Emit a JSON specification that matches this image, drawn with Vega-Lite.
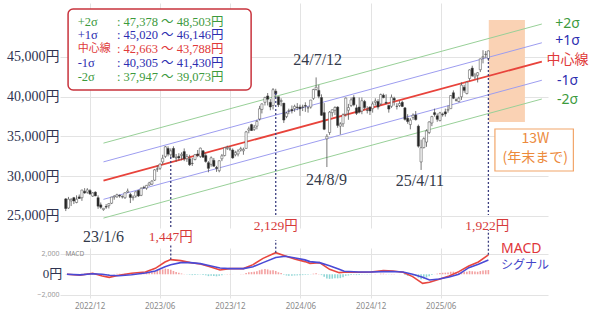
{
"$schema":"https://vega.github.io/schema/vega-lite/v6.json",
"padding":{"left":0,"top":3,"right":0,"bottom":0},
"background":"white",
"spacing":20,
"bounds":"flush",
"resolve":{"scale":{"x":"independent","y":"independent"}},
"config":{"view":{"stroke":null},"axis":{"gridWidth":1}},
"datasets":{
"w":[
{"d":"2022-09-30","o":27150,"h":27250,"l":25620,"c":25937,"hist":-20},
{"d":"2022-10-07","o":26000,"h":27400,"l":25900,"c":27116,"hist":-30},
{"d":"2022-10-14","o":26900,"h":27240,"l":26250,"c":27090,"hist":-20},
{"d":"2022-10-21","o":27300,"h":27400,"l":26500,"c":26890,"hist":-10},
{"d":"2022-10-28","o":26700,"h":27600,"l":26600,"c":27105,"hist":0},
{"d":"2022-11-04","o":27400,"h":27700,"l":27150,"c":27199,"hist":10},
{"d":"2022-11-11","o":27300,"h":28300,"l":26900,"c":28263,"hist":50},
{"d":"2022-11-18","o":28100,"h":28500,"l":27800,"c":27899,"hist":60},
{"d":"2022-11-25","o":28000,"h":28500,"l":27800,"c":28283,"hist":70},
{"d":"2022-12-02","o":28200,"h":28380,"l":27650,"c":27777,"hist":50},
{"d":"2022-12-09","o":27500,"h":28000,"l":27400,"c":27901,"hist":40},
{"d":"2022-12-16","o":28000,"h":28100,"l":27500,"c":27527,"hist":20},
{"d":"2022-12-23","o":27300,"h":27600,"l":25900,"c":26235,"hist":-60},
{"d":"2022-12-30","o":26400,"h":26700,"l":25900,"c":26094,"hist":-100},
{"d":"2023-01-06","o":25800,"h":26000,"l":25660,"c":25973,"hist":-120},
{"d":"2023-01-13","o":26200,"h":26500,"l":25900,"c":26119,"hist":-100},
{"d":"2023-01-20","o":26300,"h":26600,"l":25950,"c":26553,"hist":-70},
{"d":"2023-01-27","o":26600,"h":27400,"l":26500,"c":27382,"hist":0},
{"d":"2023-02-03","o":27400,"h":27600,"l":27050,"c":27509,"hist":30},
{"d":"2023-02-10","o":27400,"h":27800,"l":27300,"c":27670,"hist":50},
{"d":"2023-02-17","o":27600,"h":27700,"l":27300,"c":27513,"hist":50},
{"d":"2023-02-24","o":27400,"h":27600,"l":27200,"c":27453,"hist":40},
{"d":"2023-03-03","o":27300,"h":27950,"l":27150,"c":27927,"hist":50},
{"d":"2023-03-10","o":28000,"h":28450,"l":27900,"c":28143,"hist":60},
{"d":"2023-03-17","o":27700,"h":27900,"l":26630,"c":27333,"hist":0},
{"d":"2023-03-24","o":27300,"h":27600,"l":26950,"c":27385,"hist":-10},
{"d":"2023-03-31","o":27500,"h":28100,"l":27300,"c":28041,"hist":20},
{"d":"2023-04-07","o":28200,"h":28300,"l":27400,"c":27518,"hist":0},
{"d":"2023-04-14","o":27600,"h":28600,"l":27500,"c":28493,"hist":30},
{"d":"2023-04-21","o":28600,"h":28800,"l":28400,"c":28564,"hist":80},
{"d":"2023-04-28","o":28500,"h":28900,"l":28300,"c":28856,"hist":120},
{"d":"2023-05-05","o":28900,"h":29300,"l":28800,"c":29157,"hist":160},
{"d":"2023-05-12","o":29000,"h":29500,"l":28900,"c":29388,"hist":200},
{"d":"2023-05-19","o":29500,"h":30900,"l":29400,"c":30808,"hist":300},
{"d":"2023-05-26","o":30900,"h":31350,"l":30550,"c":30916,"hist":380},
{"d":"2023-06-02","o":31000,"h":31600,"l":30800,"c":31524,"hist":430},
{"d":"2023-06-09","o":31800,"h":32700,"l":31500,"c":32265,"hist":480},
{"d":"2023-06-16","o":32500,"h":33800,"l":32300,"c":33706,"hist":560},
{"d":"2023-06-23","o":33500,"h":33770,"l":32500,"c":32781,"hist":520},
{"d":"2023-06-30","o":32700,"h":33500,"l":32300,"c":33189,"hist":450},
{"d":"2023-07-07","o":33500,"h":33770,"l":32300,"c":32388,"hist":330},
{"d":"2023-07-14","o":32300,"h":32800,"l":31800,"c":32391,"hist":230},
{"d":"2023-07-21","o":32500,"h":32900,"l":32000,"c":32304,"hist":150},
{"d":"2023-07-28","o":32600,"h":33000,"l":32000,"c":32759,"hist":80},
{"d":"2023-08-04","o":33100,"h":33500,"l":31900,"c":32193,"hist":20},
{"d":"2023-08-11","o":32200,"h":32800,"l":31800,"c":32473,"hist":-10},
{"d":"2023-08-18","o":32200,"h":32700,"l":31300,"c":31450,"hist":-50},
{"d":"2023-08-25","o":31600,"h":32300,"l":31300,"c":31624,"hist":-80},
{"d":"2023-09-01","o":32100,"h":32800,"l":32000,"c":32710,"hist":-60},
{"d":"2023-09-08","o":32800,"h":33300,"l":32400,"c":32606,"hist":-50},
{"d":"2023-09-15","o":32500,"h":33600,"l":32300,"c":33533,"hist":-30},
{"d":"2023-09-22","o":33200,"h":33300,"l":32300,"c":32402,"hist":-60},
{"d":"2023-09-29","o":32600,"h":32900,"l":31700,"c":31857,"hist":-100},
{"d":"2023-10-06","o":31700,"h":31900,"l":30500,"c":30995,"hist":-180},
{"d":"2023-10-13","o":31500,"h":32500,"l":31200,"c":32315,"hist":-150},
{"d":"2023-10-20","o":32000,"h":32300,"l":31200,"c":31259,"hist":-170},
{"d":"2023-10-27","o":31100,"h":31300,"l":30550,"c":30991,"hist":-200},
{"d":"2023-11-03","o":30700,"h":32000,"l":30500,"c":31950,"hist":-150},
{"d":"2023-11-10","o":32200,"h":32800,"l":31900,"c":32568,"hist":-100},
{"d":"2023-11-17","o":32600,"h":33650,"l":32500,"c":33585,"hist":-20},
{"d":"2023-11-24","o":33500,"h":33850,"l":33300,"c":33625,"hist":30},
{"d":"2023-12-01","o":33400,"h":33800,"l":33200,"c":33431,"hist":40},
{"d":"2023-12-08","o":33300,"h":33500,"l":32200,"c":32307,"hist":-10},
{"d":"2023-12-15","o":32700,"h":33200,"l":32500,"c":32970,"hist":0},
{"d":"2023-12-22","o":32800,"h":33400,"l":32500,"c":33169,"hist":10},
{"d":"2023-12-29","o":33300,"h":33700,"l":33100,"c":33464,"hist":20},
{"d":"2024-01-05","o":33200,"h":33600,"l":32700,"c":33377,"hist":20},
{"d":"2024-01-12","o":33500,"h":35700,"l":33500,"c":35577,"hist":120},
{"d":"2024-01-19","o":35800,"h":36240,"l":35400,"c":35963,"hist":200},
{"d":"2024-01-26","o":36500,"h":36600,"l":35700,"c":35751,"hist":220},
{"d":"2024-02-02","o":35900,"h":36450,"l":35700,"c":36158,"hist":250},
{"d":"2024-02-09","o":36300,"h":37100,"l":35900,"c":36897,"hist":300},
{"d":"2024-02-16","o":37200,"h":38860,"l":37000,"c":38487,"hist":400},
{"d":"2024-02-22","o":38400,"h":39160,"l":37900,"c":39098,"hist":480},
{"d":"2024-03-01","o":39300,"h":40000,"l":38900,"c":39910,"hist":520},
{"d":"2024-03-08","o":40100,"h":40470,"l":38900,"c":39688,"hist":480},
{"d":"2024-03-15","o":39300,"h":39700,"l":38300,"c":38707,"hist":380},
{"d":"2024-03-22","o":38900,"h":41090,"l":38400,"c":40888,"hist":400},
{"d":"2024-03-29","o":40700,"h":41000,"l":39800,"c":40369,"hist":330},
{"d":"2024-04-05","o":40000,"h":40000,"l":38700,"c":38992,"hist":200},
{"d":"2024-04-12","o":39400,"h":39800,"l":38800,"c":39523,"hist":120},
{"d":"2024-04-19","o":39200,"h":39200,"l":36700,"c":37068,"hist":-50},
{"d":"2024-04-26","o":37500,"h":38100,"l":37300,"c":37934,"hist":-120},
{"d":"2024-05-02","o":38200,"h":38500,"l":37800,"c":38236,"hist":-140},
{"d":"2024-05-10","o":38400,"h":38900,"l":37900,"c":38229,"hist":-150},
{"d":"2024-05-17","o":38500,"h":39000,"l":38100,"c":38787,"hist":-120},
{"d":"2024-05-24","o":38700,"h":39200,"l":38300,"c":38646,"hist":-110},
{"d":"2024-05-31","o":38700,"h":39000,"l":37600,"c":38487,"hist":-100},
{"d":"2024-06-07","o":38700,"h":39000,"l":38200,"c":38683,"hist":-80},
{"d":"2024-06-14","o":38900,"h":39300,"l":38100,"c":38814,"hist":-60},
{"d":"2024-06-21","o":38600,"h":38800,"l":38000,"c":38596,"hist":-50},
{"d":"2024-06-28","o":38700,"h":39600,"l":38500,"c":39583,"hist":-20},
{"d":"2024-07-05","o":39800,"h":41000,"l":39600,"c":40912,"hist":60},
{"d":"2024-07-12","o":40900,"h":42430,"l":40800,"c":41190,"hist":100},
{"d":"2024-07-19","o":40800,"h":41500,"l":39800,"c":40063,"hist":40},
{"d":"2024-07-26","o":39900,"h":40300,"l":37600,"c":37667,"hist":-80},
{"d":"2024-08-02","o":38000,"h":39200,"l":35800,"c":35909,"hist":-250},
{"d":"2024-08-09","o":34700,"h":35300,"l":31160,"c":35025,"hist":-420},
{"d":"2024-08-16","o":35500,"h":38200,"l":35200,"c":38062,"hist":-450},
{"d":"2024-08-23","o":38000,"h":38400,"l":37500,"c":38364,"hist":-430},
{"d":"2024-08-30","o":38300,"h":38800,"l":37700,"c":38647,"hist":-380},
{"d":"2024-09-06","o":38700,"h":38800,"l":36100,"c":36391,"hist":-400},
{"d":"2024-09-13","o":36300,"h":36800,"l":35250,"c":36581,"hist":-380},
{"d":"2024-09-20","o":36600,"h":37900,"l":36200,"c":37723,"hist":-300},
{"d":"2024-09-27","o":37800,"h":39900,"l":37500,"c":39829,"hist":-150},
{"d":"2024-10-04","o":38300,"h":39100,"l":37100,"c":38635,"hist":-120},
{"d":"2024-10-11","o":38900,"h":39900,"l":38700,"c":39605,"hist":-60},
{"d":"2024-10-18","o":39900,"h":40200,"l":38800,"c":38981,"hist":-50},
{"d":"2024-10-25","o":38600,"h":39000,"l":37700,"c":37913,"hist":-80},
{"d":"2024-11-01","o":38700,"h":39900,"l":37900,"c":38053,"hist":-70},
{"d":"2024-11-08","o":38200,"h":39900,"l":37800,"c":39500,"hist":-30},
{"d":"2024-11-15","o":39400,"h":39600,"l":38400,"c":38642,"hist":-20},
{"d":"2024-11-22","o":38300,"h":38800,"l":37900,"c":38283,"hist":-30},
{"d":"2024-11-29","o":38700,"h":38800,"l":37700,"c":38208,"hist":-30},
{"d":"2024-12-06","o":38500,"h":39400,"l":38000,"c":39091,"hist":0},
{"d":"2024-12-13","o":39300,"h":39800,"l":38900,"c":39470,"hist":20},
{"d":"2024-12-20","o":39400,"h":39700,"l":38400,"c":38701,"hist":0},
{"d":"2024-12-27","o":39100,"h":40400,"l":38900,"c":40281,"hist":60},
{"d":"2025-01-03","o":40200,"h":40400,"l":39800,"c":39894,"hist":60},
{"d":"2025-01-10","o":39300,"h":40300,"l":39100,"c":39190,"hist":30},
{"d":"2025-01-17","o":38900,"h":39000,"l":38000,"c":38451,"hist":-20},
{"d":"2025-01-24","o":38800,"h":40280,"l":38600,"c":39931,"hist":30},
{"d":"2025-01-31","o":39800,"h":40000,"l":38900,"c":39572,"hist":40},
{"d":"2025-02-07","o":38800,"h":39200,"l":38400,"c":38787,"hist":0},
{"d":"2025-02-14","o":38900,"h":39500,"l":38700,"c":39149,"hist":10},
{"d":"2025-02-21","o":39300,"h":39500,"l":38700,"c":38776,"hist":0},
{"d":"2025-02-28","o":38600,"h":38700,"l":37000,"c":37155,"hist":-80},
{"d":"2025-03-07","o":37300,"h":37800,"l":36600,"c":36887,"hist":-150},
{"d":"2025-03-14","o":36500,"h":37300,"l":35900,"c":37053,"hist":-160},
{"d":"2025-03-21","o":37400,"h":37900,"l":37100,"c":37677,"hist":-130},
{"d":"2025-03-28","o":37700,"h":38200,"l":37000,"c":37120,"hist":-150},
{"d":"2025-04-04","o":36300,"h":36500,"l":33600,"c":33780,"hist":-330},
{"d":"2025-04-11","o":31800,"h":34600,"l":30790,"c":33586,"hist":-480},
{"d":"2025-04-18","o":33600,"h":34900,"l":33500,"c":34730,"hist":-420},
{"d":"2025-04-25","o":34300,"h":35900,"l":33700,"c":35705,"hist":-320},
{"d":"2025-05-02","o":35500,"h":36900,"l":35300,"c":36831,"hist":-200},
{"d":"2025-05-09","o":36700,"h":37600,"l":36300,"c":37503,"hist":-80},
{"d":"2025-05-16","o":38000,"h":38500,"l":37500,"c":37753,"hist":10},
{"d":"2025-05-23","o":37600,"h":37900,"l":36850,"c":37160,"hist":60},
{"d":"2025-05-30","o":37000,"h":38100,"l":36900,"c":37965,"hist":120},
{"d":"2025-06-06","o":37800,"h":38000,"l":37500,"c":37742,"hist":150},
{"d":"2025-06-13","o":38100,"h":38500,"l":37500,"c":37834,"hist":160},
{"d":"2025-06-20","o":38300,"h":38900,"l":38000,"c":38403,"hist":170},
{"d":"2025-06-27","o":38500,"h":40200,"l":38500,"c":40151,"hist":250},
{"d":"2025-07-04","o":40500,"h":40800,"l":39700,"c":39811,"hist":260},
{"d":"2025-07-11","o":39600,"h":39800,"l":39400,"c":39570,"hist":230},
{"d":"2025-07-18","o":39400,"h":40000,"l":39300,"c":39819,"hist":200},
{"d":"2025-07-25","o":40000,"h":41800,"l":39600,"c":41456,"hist":270},
{"d":"2025-08-01","o":41200,"h":41500,"l":40500,"c":40800,"hist":240},
{"d":"2025-08-08","o":40400,"h":41900,"l":40300,"c":41820,"hist":260},
{"d":"2025-08-15","o":42300,"h":43450,"l":42000,"c":43378,"hist":330},
{"d":"2025-08-22","o":43600,"h":43900,"l":42500,"c":42633,"hist":300},
{"d":"2025-08-29","o":42500,"h":43000,"l":42200,"c":42718,"hist":270},
{"d":"2025-09-05","o":42700,"h":43100,"l":41800,"c":43018,"hist":250},
{"d":"2025-09-12","o":43400,"h":44800,"l":43100,"c":44768,"hist":320},
{"d":"2025-09-19","o":44900,"h":45850,"l":44200,"c":45045,"hist":380},
{"d":"2025-09-26","o":45300,"h":45750,"l":44900,"c":45355,"hist":400},
{"d":"2025-10-03","o":44800,"h":45800,"l":44500,"c":45769,"hist":420}
],
"m":[
{"d":"2022-10-03","macd":0,"sig":0},
{"d":"2022-11-06","macd":-100,"sig":-60},
{"d":"2022-12-09","macd":100,"sig":50},
{"d":"2023-01-03","macd":-160,"sig":0},
{"d":"2023-01-21","macd":-300,"sig":-100},
{"d":"2023-02-15","macd":-100,"sig":-150},
{"d":"2023-03-20","macd":100,"sig":-50},
{"d":"2023-04-25","macd":230,"sig":130},
{"d":"2023-05-21","macd":590,"sig":330},
{"d":"2023-06-15","macd":1210,"sig":750},
{"d":"2023-06-30","macd":1447,"sig":950},
{"d":"2023-07-26","macd":1345,"sig":1150},
{"d":"2023-08-20","macd":1150,"sig":1150},
{"d":"2023-09-15","macd":1020,"sig":1050},
{"d":"2023-10-10","macd":750,"sig":850},
{"d":"2023-11-05","macd":430,"sig":620},
{"d":"2023-11-30","macd":560,"sig":560},
{"d":"2024-01-05","macd":560,"sig":560},
{"d":"2024-01-30","macd":950,"sig":750},
{"d":"2024-02-25","macd":1570,"sig":1150},
{"d":"2024-03-29","macd":2129,"sig":1650},
{"d":"2024-04-23","macd":1800,"sig":1780},
{"d":"2024-05-19","macd":1480,"sig":1600},
{"d":"2024-06-13","macd":1250,"sig":1420},
{"d":"2024-06-26","macd":1080,"sig":1250},
{"d":"2024-07-21","macd":1150,"sig":1150},
{"d":"2024-08-16","macd":490,"sig":850},
{"d":"2024-09-10","macd":160,"sig":500},
{"d":"2024-09-23","macd":200,"sig":300},
{"d":"2024-10-31","macd":200,"sig":230},
{"d":"2024-12-01","macd":230,"sig":230},
{"d":"2025-01-03","macd":360,"sig":260},
{"d":"2025-01-28","macd":330,"sig":280},
{"d":"2025-02-23","macd":200,"sig":230},
{"d":"2025-03-20","macd":-230,"sig":0},
{"d":"2025-04-15","macd":-890,"sig":-300},
{"d":"2025-05-03","macd":-790,"sig":-560},
{"d":"2025-05-28","macd":-490,"sig":-460},
{"d":"2025-06-23","macd":-160,"sig":-260},
{"d":"2025-07-18","macd":260,"sig":0},
{"d":"2025-08-13","macd":820,"sig":650},
{"d":"2025-09-07","macd":1210,"sig":1000},
{"d":"2025-10-03","macd":1922,"sig":1400}
]
},
"vconcat":[
{
"width":488,"height":225,
"encoding":{"x":{"field":"d","type":"temporal","scale":{"type":"utc","domain":[{"year":2022,"month":9,"date":28,"utc":true},{"year":2026,"month":2,"date":22,"utc":true}]},"axis":{"values":[{"year":2022,"month":12,"date":1,"utc":true},{"year":2023,"month":6,"date":1,"utc":true},{"year":2023,"month":12,"date":1,"utc":true},{"year":2024,"month":6,"date":1,"utc":true},{"year":2024,"month":12,"date":1,"utc":true},{"year":2025,"month":6,"date":1,"utc":true}],"labels":false,"ticks":false,"domain":false,"grid":true,"gridColor":"#e3e3e3","title":null}}},
"layer":[
{"data":{"values":[{"d":"2025-10-04","d2":"2026-01-06","p":36820,"p2":49650}]},"mark":{"type":"rect","color":"#fad2b4"},
 "encoding":{"x2":{"field":"d2"},"y":{"field":"p","type":"quantitative","scale":{"domain":[23490,51790],"nice":false,"zero":false},"axis":{"values":[25000,30000,35000,40000,45000],"labelExpr":"format(datum.value, ',') + '円'","labelFont":"Liberation Serif, Noto Sans CJK JP","labelFontSize":14,"labelColor":"#2f3350","labelPadding":1,"ticks":false,"domain":false,"grid":true,"gridColor":"#e3e3e3","title":null,"minExtent":60,"maxExtent":60}},"y2":{"field":"p2"}}},
{"data":{"values":[
{"g":"+2σ","d":"2023-01-06","p":34165},{"g":"+2σ","d":"2026-02-19","p":49145},
{"g":"+1σ","d":"2023-01-06","p":31807},{"g":"+1σ","d":"2026-02-19","p":46787},
{"g":"-1σ","d":"2023-01-06","p":27093},{"g":"-1σ","d":"2026-02-19","p":42073},
{"g":"-2σ","d":"2023-01-06","p":24735},{"g":"-2σ","d":"2026-02-19","p":39715}]},
 "mark":{"type":"line","strokeWidth":1},
 "encoding":{"y":{"field":"p","type":"quantitative","scale":{"domain":[23490,51790],"nice":false,"zero":false},"title":null},"stroke":{"field":"g","type":"nominal","scale":{"domain":["+2σ","+1σ","-1σ","-2σ"],"range":["#98d098","#9d9df0","#9d9df0","#98d098"]},"legend":null}}},
{"data":{"values":[{"d":"2023-01-06","p":29450},{"d":"2026-02-19","p":44430}]},
 "mark":{"type":"line","color":"#e8433b","strokeWidth":1.8},
 "encoding":{"y":{"field":"p","type":"quantitative","scale":{"domain":[23490,51790],"nice":false,"zero":false},"title":null}}},
{"data":{"name":"w"},"mark":{"type":"rule","color":"#555555","strokeWidth":0.8},
 "encoding":{"y":{"field":"l","type":"quantitative","scale":{"domain":[23490,51790],"nice":false,"zero":false},"title":null},"y2":{"field":"h"}}},
{"data":{"name":"w"},"mark":{"type":"bar","width":2.2,"stroke":"#444444","strokeWidth":0.5},
 "encoding":{"y":{"field":"o","type":"quantitative","scale":{"domain":[23490,51790],"nice":false,"zero":false},"title":null},"y2":{"field":"c"},"fill":{"condition":{"test":"datum.c >= datum.o","value":"#ffffff"},"value":"#222222"}}},
{"data":{"values":[{"d":"2023-06-30","p":32420,"p2":23490},{"d":"2024-03-29","p":40470,"p2":25130},{"d":"2025-10-03","p":44870,"p2":25130}]},
 "mark":{"type":"rule","color":"#3c3f80","strokeDash":[2,2],"strokeWidth":1.3},
 "encoding":{"y":{"field":"p","type":"quantitative","scale":{"domain":[23490,51790],"nice":false,"zero":false},"title":null},"y2":{"field":"p2"}}},
{"data":{"values":[{"d":"2026-04-27","p":49150,"g":"+2σ"},{"d":"2026-04-27","p":47010,"g":"+1σ"},{"d":"2026-04-27","p":44620,"g":"中心線"},{"d":"2026-04-27","p":41980,"g":"-1σ"},{"d":"2026-04-27","p":39590,"g":"-2σ"}]},
 "mark":{"type":"text","font":"Noto Sans, Noto Sans CJK JP","fontSize":14,"align":"center","baseline":"middle"},
 "encoding":{"y":{"field":"p","type":"quantitative","scale":{"domain":[23490,51790],"nice":false,"zero":false},"title":null},"text":{"field":"g"},"fill":{"field":"g","type":"nominal","scale":{"domain":["+2σ","+1σ","中心線","-1σ","-2σ"],"range":["#3d9a3d","#2d2db0","#e03a3a","#2d2db0","#3d9a3d"]},"legend":null}}},
{"data":{"values":[{"d":"2024-07-16","p":44620,"t":"24/7/12"},{"d":"2024-08-08","p":29530,"t":"24/8/9"},{"d":"2025-04-08","p":29400,"t":"25/4/11"},{"d":"2023-01-06","p":22360,"t":"23/1/6"}]},
 "mark":{"type":"text","font":"Liberation Serif","fontSize":16,"align":"center","baseline":"middle","color":"#333a4a"},
 "encoding":{"y":{"field":"p","type":"quantitative","scale":{"domain":[23490,51790],"nice":false,"zero":false},"title":null},"text":{"field":"t"}}},
{"data":{"values":[{"d":"2023-06-30","p":22360,"t":"1,447円"},{"d":"2024-03-29","p":23740,"t":"2,129円"},{"d":"2025-09-30","p":23740,"t":"1,922円"}]},
 "mark":{"type":"text","font":"Liberation Serif, Noto Sans CJK JP","fontSize":13.5,"align":"center","baseline":"middle","color":"#d63a3a"},
 "encoding":{"y":{"field":"p","type":"quantitative","scale":{"domain":[23490,51790],"nice":false,"zero":false},"title":null},"text":{"field":"t"}}},
{"data":{"values":[{"d":"2025-10-20","d2":"2026-05-12","p":30660,"p2":35940}]},
 "mark":{"type":"rect","fill":"#ffffff","stroke":"#f2a66a","strokeWidth":1.2},
 "encoding":{"x2":{"field":"d2"},"y":{"field":"p","type":"quantitative","scale":{"domain":[23490,51790],"nice":false,"zero":false},"title":null},"y2":{"field":"p2"}}},
{"data":{"values":[{"d":"2026-02-02","p":34660,"t":"13W"},{"d":"2026-02-02","p":32250,"t":"(年末まで)"}]},
 "mark":{"type":"text","font":"Noto Sans CJK JP","fontSize":14,"align":"center","baseline":"middle","color":"#ec8a3c"},
 "encoding":{"y":{"field":"p","type":"quantitative","scale":{"domain":[23490,51790],"nice":false,"zero":false},"title":null},"text":{"field":"t"}}},
{"data":{"values":[{"d":"2022-10-06","d2":"2024-01-25","p":40850,"p2":51040}]},
 "mark":{"type":"rect","fill":"#ffffff","stroke":"#c8333d","strokeWidth":1.5,"cornerRadius":5},
 "encoding":{"x2":{"field":"d2"},"y":{"field":"p","type":"quantitative","scale":{"domain":[23490,51790],"nice":false,"zero":false},"title":null},"y2":{"field":"p2"}}},
{"data":{"values":[
{"d":"2022-10-31","p":49440,"g":"+2σ","t":"+2σ"},
{"d":"2022-10-31","p":47770,"g":"+1σ","t":"+1σ"},
{"d":"2022-10-31","p":46010,"g":"中心線","t":"中心線"},
{"d":"2022-10-31","p":44245,"g":"-1σ","t":"-1σ"},
{"d":"2022-10-31","p":42480,"g":"-2σ","t":"-2σ"},
{"d":"2023-02-10","p":49440,"g":"+2σ","t":": 47,378 ～ 48,503円"},
{"d":"2023-02-10","p":47770,"g":"+1σ","t":": 45,020 ～ 46,146円"},
{"d":"2023-02-10","p":46010,"g":"中心線","t":": 42,663 ～ 43,788円"},
{"d":"2023-02-10","p":44245,"g":"-1σ","t":": 40,305 ～ 41,430円"},
{"d":"2023-02-10","p":42480,"g":"-2σ","t":": 37,947 ～ 39,073円"}]},
 "mark":{"type":"text","font":"Liberation Serif, Noto Sans CJK JP","align":"left","baseline":"middle"},
 "encoding":{"y":{"field":"p","type":"quantitative","scale":{"domain":[23490,51790],"nice":false,"zero":false},"title":null},"text":{"field":"t"},"size":{"condition":{"test":"datum.t === '中心線'","value":11},"value":12.5},"fill":{"field":"g","type":"nominal","scale":{"domain":["+2σ","+1σ","中心線","-1σ","-2σ"],"range":["#3d9a3d","#2d2db0","#e03a3a","#2d2db0","#3d9a3d"]},"legend":null}}}
]
},
{
"width":488,"height":50,
"encoding":{"x":{"field":"d","type":"temporal","scale":{"type":"utc","domain":[{"year":2022,"month":9,"date":28,"utc":true},{"year":2026,"month":2,"date":22,"utc":true}]},"axis":{"values":[{"year":2022,"month":12,"date":1,"utc":true},{"year":2023,"month":6,"date":1,"utc":true},{"year":2023,"month":12,"date":1,"utc":true},{"year":2024,"month":6,"date":1,"utc":true},{"year":2024,"month":12,"date":1,"utc":true},{"year":2025,"month":6,"date":1,"utc":true}],"format":"%Y/%m","labelFont":"Noto Sans","labelFontSize":8,"labelColor":"#8a8a8a","labelPadding":4,"ticks":false,"domain":false,"grid":true,"gridColor":"#e3e3e3","title":null}}},
"layer":[
{"data":{"name":"w"},"mark":{"type":"bar","width":1.6},
 "encoding":{"y":{"field":"hist","type":"quantitative","scale":{"domain":[-2335,2590],"nice":false,"zero":false},"axis":{"values":[-2000,0,2000],"labelOverlap":false,"labelExpr":"datum.value == 0 ? '' : format(datum.value, ',')","labelFont":"Noto Sans","labelFontSize":7,"labelColor":"#999999","labelPadding":1,"ticks":false,"domain":false,"grid":true,"gridColor":"#e3e3e3","title":null,"minExtent":60,"maxExtent":60}},"y2":{"datum":0},"color":{"condition":{"test":"datum.hist >= 0","value":"#f3a1a1"},"value":"#8fd6d6"}}},
{"mark":{"type":"rule","color":"#4a4e5e","strokeWidth":1.2},"encoding":{"y":{"datum":0,"type":"quantitative","scale":{"domain":[-2335,2590],"nice":false,"zero":false},"title":null}}},
{"data":{"name":"m"},"mark":{"type":"line","color":"#e8473f","strokeWidth":1.6},
 "encoding":{"y":{"field":"macd","type":"quantitative","scale":{"domain":[-2335,2590],"nice":false,"zero":false},"title":null}}},
{"data":{"name":"m"},"mark":{"type":"line","color":"#4a4ad6","strokeWidth":1.6},
 "encoding":{"y":{"field":"sig","type":"quantitative","scale":{"domain":[-2335,2590],"nice":false,"zero":false},"title":null}}},
{"data":{"values":[{"d":"2023-06-30","v":1447,"v2":2890},{"d":"2024-03-29","v":2129,"v2":3380},{"d":"2025-10-03","v":1922,"v2":4360}]},
 "mark":{"type":"rule","color":"#3c3f80","strokeDash":[2,2],"strokeWidth":1.3},
 "encoding":{"y":{"field":"v","type":"quantitative","scale":{"domain":[-2335,2590],"nice":false,"zero":false},"title":null},"y2":{"field":"v2"}}},
{"data":{"values":[{"d":"2025-11-05","v":2490,"t":"MACD"}]},
 "mark":{"type":"text","font":"Noto Sans","fontSize":14,"align":"left","baseline":"middle","color":"#e0353a"},
 "encoding":{"y":{"field":"v","type":"quantitative","scale":{"domain":[-2335,2590],"nice":false,"zero":false},"title":null},"text":{"field":"t"}}},
{"data":{"values":[{"d":"2025-11-05","v":916,"t":"シグナル"}]},
 "mark":{"type":"text","font":"Noto Sans CJK JP","fontSize":12,"align":"left","baseline":"middle","color":"#4545c8"},
 "encoding":{"y":{"field":"v","type":"quantitative","scale":{"domain":[-2335,2590],"nice":false,"zero":false},"title":null},"text":{"field":"t"}}},
{"data":{"values":[{"d":"2022-09-29","v":2000,"t":"MACD"}]},
 "mark":{"type":"text","font":"Noto Sans","fontSize":6.5,"align":"left","baseline":"middle","color":"#888888"},
 "encoding":{"y":{"field":"v","type":"quantitative","scale":{"domain":[-2335,2590],"nice":false,"zero":false},"title":null},"text":{"field":"t"}}},
{"data":{"values":[{"d":"2022-09-21","v":0,"t":"0円"}]},
 "mark":{"type":"text","font":"Liberation Serif, Noto Sans CJK JP","fontSize":13,"align":"right","baseline":"middle","color":"#2f3350"},
 "encoding":{"y":{"field":"v","type":"quantitative","scale":{"domain":[-2335,2590],"nice":false,"zero":false},"title":null},"text":{"field":"t"}}}
]
}
]
}
